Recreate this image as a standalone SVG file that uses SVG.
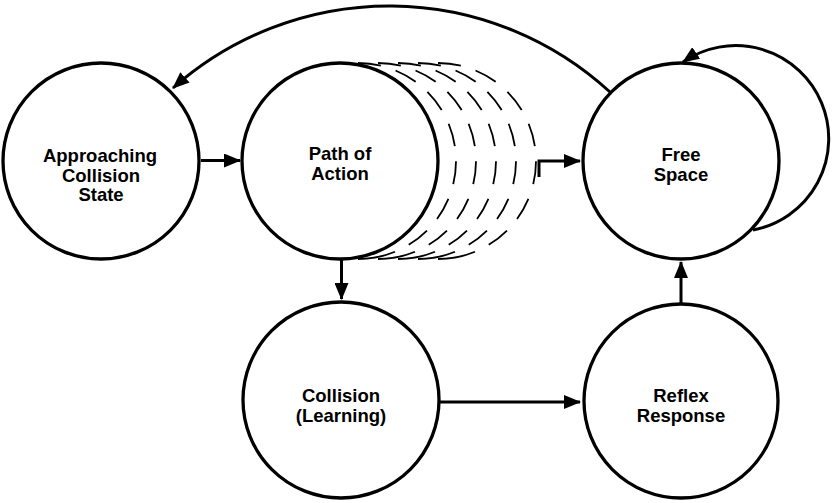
<svg xmlns="http://www.w3.org/2000/svg" width="833" height="503" viewBox="0 0 833 503">
<style>
.node{fill:#fff;stroke:#000;stroke-width:3.3}
.lbl{font-family:"Liberation Sans",Arial,sans-serif;font-weight:bold;font-size:18.5px;fill:#000;text-anchor:middle}
.con{fill:none;stroke:#000;stroke-width:3}
.dash{fill:none;stroke:#000;stroke-width:1.8;stroke-dasharray:23.1 15.4 23.1 15.4 23.1 15.4 23.1 15.4 23.1 15.4 23.1 15.4 23.1 15.4 38.5 20}
</style>
<defs>
<marker id="ah" viewBox="0 0 17 14" refX="16" refY="7" markerWidth="17" markerHeight="14" markerUnits="userSpaceOnUse" orient="auto">
<path d="M0,0 L17,7 L0,14 Z" fill="#000"/>
</marker>
</defs>
<rect width="833" height="503" fill="#fff"/>
<g id="trail">
<path class="dash" d="M358,63 A98,98 0 0,1 358,259"/>
<path class="dash" d="M378,63 A98,98 0 0,1 378,259"/>
<path class="dash" d="M398,63 A98,98 0 0,1 398,259"/>
<path class="dash" d="M418,63 A98,98 0 0,1 418,259"/>
<path class="dash" d="M438,63 A98,98 0 0,1 438,259"/>
</g>
<g id="approaching">
<circle class="node" cx="101" cy="161" r="98"/>
<text class="lbl" x="100" y="162">Approaching</text>
<text class="lbl" x="101" y="182">Collision</text>
<text class="lbl" x="101" y="201">State</text>
</g>
<g id="path-of-action">
<circle class="node" cx="340" cy="161" r="98"/>
<text class="lbl" x="340" y="160">Path of</text>
<text class="lbl" x="340" y="180">Action</text>
</g>
<g id="free-space">
<circle class="node" cx="681" cy="161" r="98"/>
<text class="lbl" x="681" y="161">Free</text>
<text class="lbl" x="681" y="181">Space</text>
</g>
<g id="collision">
<circle class="node" cx="341" cy="400" r="98"/>
<text class="lbl" x="341" y="402">Collision</text>
<text class="lbl" x="341" y="422">(Learning)</text>
</g>
<g id="reflex">
<circle class="node" cx="681" cy="401" r="97"/>
<text class="lbl" x="681" y="402">Reflex</text>
<text class="lbl" x="681" y="422">Response</text>
</g>
<g id="connectors">
<line class="con" x1="201" y1="160.5" x2="240" y2="160.5" marker-end="url(#ah)"/>
<line class="con" x1="341.5" y1="260" x2="341.5" y2="299" marker-end="url(#ah)"/>
<line class="con" x1="440" y1="402" x2="580" y2="402" marker-end="url(#ah)"/>
<line class="con" x1="681" y1="303" x2="681" y2="262" marker-end="url(#ah)"/>
<polyline class="con" points="539,177 539,161 580,161" marker-end="url(#ah)"/>
<path class="con" d="M610,92 A326,326 0 0,0 173,88" marker-end="url(#ah)"/>
<path class="con" d="M753,230 A93,93 0 1,0 683,62" marker-end="url(#ah)"/>
</g>
</svg>
